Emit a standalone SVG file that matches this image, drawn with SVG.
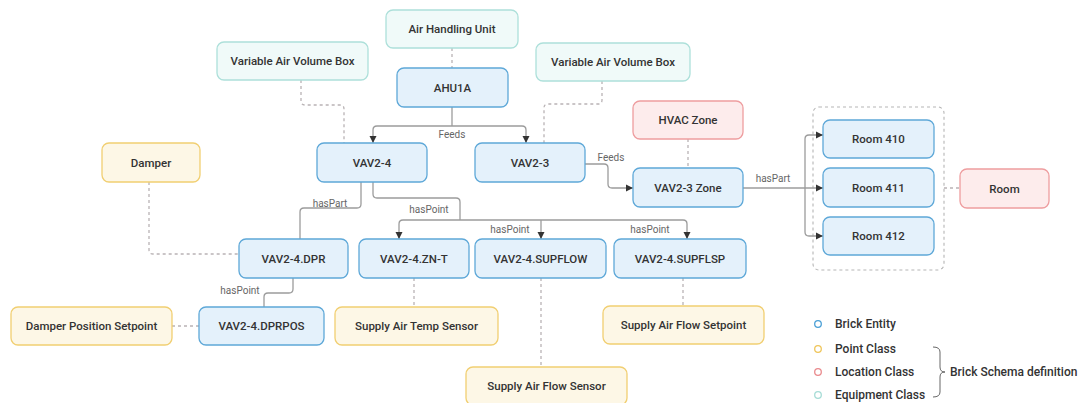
<svg xmlns="http://www.w3.org/2000/svg" width="1079" height="403" viewBox="0 0 1079 403">
<defs>
<marker id="arr" markerUnits="userSpaceOnUse" markerWidth="10" markerHeight="10" refX="9" refY="5" orient="auto">
<path d="M2,1.5 L9,5 L2,8.5 Z" fill="#333"/>
</marker>
</defs>
<style>
.n rect{stroke-width:1.3}
.be rect{fill:#e4f1fb;stroke:#5ea8d8}
.pc rect{fill:#fdf7e6;stroke:#f1cf72}
.lc rect{fill:#fdecec;stroke:#ee9d9f}
.ec rect{fill:#f0faf9;stroke:#ade0da}
.n text{font-family:Roboto,"Liberation Sans",sans-serif;font-size:11.5px;font-weight:500;fill:#333;text-anchor:middle;dominant-baseline:central}
.c path{fill:none;stroke:#9c9c9c;stroke-width:1.3}
.c path.a{marker-end:url(#arr)}
.c path.d{stroke:#b9b3b5;stroke-dasharray:3 3}
.lb{font-family:Roboto,"Liberation Sans",sans-serif;font-size:10px;fill:#666;text-anchor:middle;dominant-baseline:central}
.lg text{font-family:Roboto,"Liberation Sans",sans-serif;font-size:12px;font-weight:500;fill:#333;dominant-baseline:central}
.lg circle{fill:none;stroke-width:1.3}
</style>
<rect width="1079" height="403" fill="#fff"/>

<g id="connectors" class="c">
<path class="d" d="M452,48 V68"/>
<path class="d" d="M301,80 V101 Q301,105 305,105 H340 Q344,105 344,109 V143"/>
<path class="d" d="M602,81 V100 Q602,104 598,104 H548 Q544,104 544,108 V143"/>
<path class="d" d="M688,139 V168"/>
<path class="d" d="M944,188 H960"/>
<path class="d" d="M149,182 V250 Q149,254 153,254 H239"/>
<path class="d" d="M172,326 H199"/>
<path class="d" d="M414,278 V307"/>
<path class="d" d="M541,278 V367"/>
<path class="d" d="M683,278 V306"/>
<rect x="813" y="107" width="131" height="163" rx="6" fill="none" stroke="#b5b5b5" stroke-width="1.1" stroke-dasharray="3 3"/>

<path d="M452,107 V126"/>
<path class="a" d="M452,126 H377 Q373,126 373,130 V143"/>
<path class="a" d="M452,126 H522 Q526,126 526,130 V143"/>
<path class="a" d="M585,164 H604 Q608,164 608,168 V184 Q608,188 612,188 H633"/>
<path class="a" d="M743,188 H823"/>
<path class="a" d="M805,188 V139 Q805,135 809,135 H823"/>
<path class="a" d="M805,188 V232 Q805,236 809,236 H823"/>
<path d="M361,182 V204 Q361,208 357,208 H304 Q300,208 300,212 V239"/>
<path d="M373,182 V194 Q373,198 377,198 H456 Q460,198 460,202 V220"/>
<path class="a" d="M460,220 H403 Q399,220 399,224 V239"/>
<path class="a" d="M460,220 H683 Q687,220 687,224 V239"/>
<path class="a" d="M541,220 V239"/>
<path d="M293,278 V289 Q293,293 289,293 H268 Q264,293 264,297 V307"/>
<text class="lb" x="452" y="134">Feeds</text>
<text class="lb" x="611" y="157">Feeds</text>
<text class="lb" x="773" y="178">hasPart</text>
<text class="lb" x="330" y="203">hasPart</text>
<text class="lb" x="429" y="209">hasPoint</text>
<text class="lb" x="510" y="229">hasPoint</text>
<text class="lb" x="650" y="229">hasPoint</text>
<text class="lb" x="240" y="290">hasPoint</text>
</g>

<g id="ahu-class" class="n ec"><rect x="386" y="10" width="132" height="38" rx="7"/><text x="452" y="29">Air Handling Unit</text></g>
<g id="vav-class-left" class="n ec"><rect x="217" y="42" width="151" height="38" rx="7"/><text x="292.5" y="61">Variable Air Volume Box</text></g>
<g id="vav-class-right" class="n ec"><rect x="536" y="43" width="154" height="38" rx="7"/><text x="613" y="62">Variable Air Volume Box</text></g>
<g id="ahu1a" class="n be"><rect x="397" y="68" width="111" height="39" rx="7"/><text x="452.5" y="87.5">AHU1A</text></g>
<g id="hvac-zone-class" class="n lc"><rect x="633" y="101" width="110" height="38" rx="7"/><text x="688" y="120">HVAC Zone</text></g>
<g id="vav2-4" class="n be"><rect x="317" y="143" width="110" height="39" rx="7"/><text x="372" y="162.5">VAV2-4</text></g>
<g id="vav2-3" class="n be"><rect x="475" y="143" width="110" height="39" rx="7"/><text x="530" y="162.5">VAV2-3</text></g>
<g id="vav2-3-zone" class="n be"><rect x="633" y="168" width="110" height="39" rx="7"/><text x="688" y="187.5">VAV2-3 Zone</text></g>
<g id="room410" class="n be"><rect x="823" y="120" width="111" height="38" rx="7"/><text x="878.5" y="139">Room 410</text></g>
<g id="room411" class="n be"><rect x="823" y="168" width="111" height="39" rx="7"/><text x="878.5" y="187.5">Room 411</text></g>
<g id="room412" class="n be"><rect x="823" y="217" width="111" height="38" rx="7"/><text x="878.5" y="236">Room 412</text></g>
<g id="room-class" class="n lc"><rect x="960" y="169" width="89" height="39" rx="7"/><text x="1004.5" y="188.5">Room</text></g>
<g id="damper-class" class="n pc"><rect x="102" y="143" width="98" height="39" rx="7"/><text x="151" y="162.5">Damper</text></g>
<g id="vav2-4-dpr" class="n be"><rect x="239" y="239" width="109" height="39" rx="7"/><text x="293.5" y="258.5">VAV2-4.DPR</text></g>
<g id="vav2-4-znt" class="n be"><rect x="359" y="239" width="110" height="39" rx="7"/><text x="414" y="258.5">VAV2-4.ZN-T</text></g>
<g id="vav2-4-supflow" class="n be"><rect x="475" y="239" width="131" height="39" rx="7"/><text x="540.5" y="258.5">VAV2-4.SUPFLOW</text></g>
<g id="vav2-4-supflsp" class="n be"><rect x="614" y="239" width="132" height="39" rx="7"/><text x="680" y="258.5">VAV2-4.SUPFLSP</text></g>
<g id="dps-class" class="n pc"><rect x="11" y="307" width="161" height="38" rx="7"/><text x="91.5" y="326">Damper Position Setpoint</text></g>
<g id="vav2-4-dprpos" class="n be"><rect x="199" y="307" width="125" height="38" rx="7"/><text x="261.5" y="326">VAV2-4.DPRPOS</text></g>
<g id="sats-class" class="n pc"><rect x="335" y="307" width="163" height="38" rx="7"/><text x="416.5" y="326">Supply Air Temp Sensor</text></g>
<g id="safsp-class" class="n pc"><rect x="603" y="306" width="161" height="38" rx="7"/><text x="683.5" y="325">Supply Air Flow Setpoint</text></g>
<g id="safs-class" class="n pc"><rect x="466" y="367" width="161" height="38" rx="7"/><text x="546.5" y="386">Supply Air Flow Sensor</text></g>

<g id="legend" class="lg">
<circle cx="818" cy="324" r="3.3" stroke="#4a9fd6"/><text x="835" y="324">Brick Entity</text>
<circle cx="818" cy="349" r="3.3" stroke="#efc55a"/><text x="835" y="349">Point Class</text>
<circle cx="818" cy="372" r="3.3" stroke="#e98a8d"/><text x="835" y="372">Location Class</text>
<circle cx="818" cy="395" r="3.3" stroke="#a6dcd6"/><text x="835" y="395">Equipment Class</text>
<path d="M933,347 Q940,347 940,352 V367 Q940,372 945,372 Q940,372 940,377 V392 Q940,397 933,397" fill="none" stroke="#666" stroke-width="1"/>
<text x="950" y="372">Brick Schema definition</text>
</g>
</svg>
